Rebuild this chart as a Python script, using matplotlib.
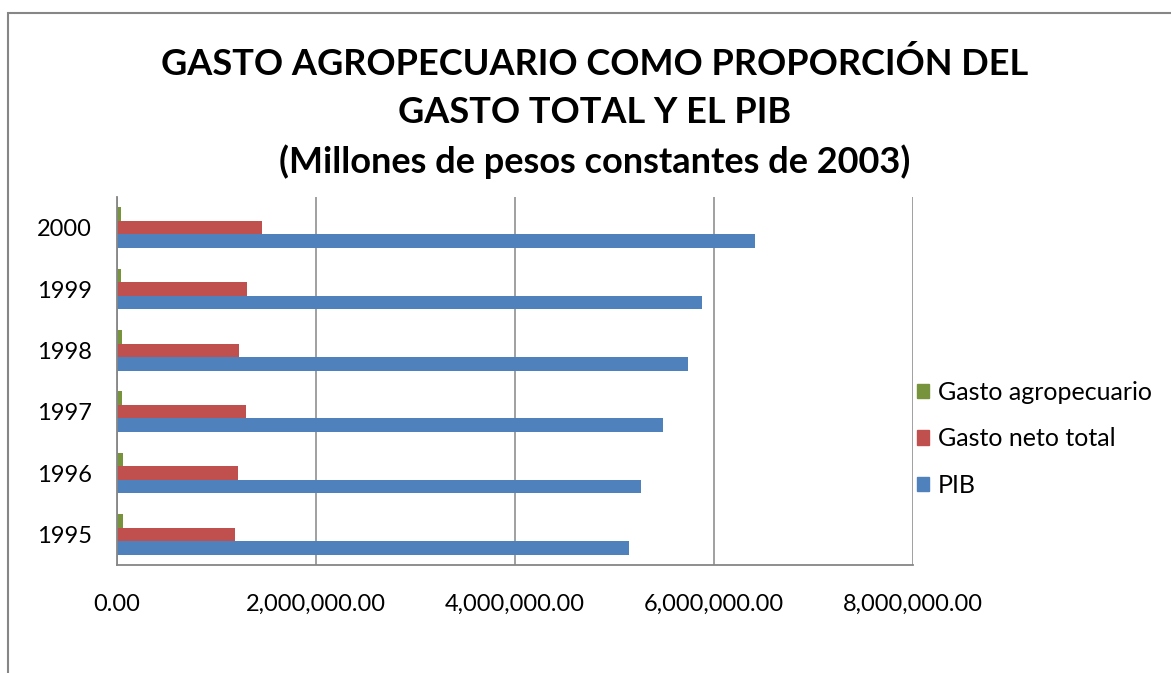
import matplotlib
matplotlib.use('Agg')
import matplotlib.pyplot as plt
from matplotlib.patches import Rectangle, Patch
from matplotlib.ticker import FuncFormatter
import numpy as np

plt.rcParams['font.family'] = ['Lato', 'DejaVu Sans']

years = ['1995', '1996', '1997', '1998', '1999', '2000']
pib = [5146000, 5266000, 5487000, 5739000, 5880000, 6412000]
gasto_neto = [1189000, 1216000, 1293000, 1226000, 1303000, 1454000]
gasto_agro = [60000, 57000, 53000, 47000, 37000, 37000]

fig = plt.figure(figsize=(11.71, 6.73), dpi=100)
fig.patches.append(Rectangle((8 / 1171, -0.1), 1.2, 1 - 13 / 673 + 0.1, transform=fig.transFigure,
                             fill=False, edgecolor='#868686', linewidth=1.5))

ax = fig.add_axes([117 / 1171, 1 - 565 / 673, 796 / 1171, 368 / 673])

y = np.arange(len(years))
h = 1 / 4.5
ax.barh(y - h, pib, height=h, color='#4F81BD', label='PIB')
ax.barh(y, gasto_neto, height=h, color='#C0504D', label='Gasto neto total')
ax.barh(y + h, gasto_agro, height=h, color='#77933C', label='Gasto agropecuario')

ax.set_xlim(0, 8000000)
ax.set_ylim(-0.5, 5.5)
ax.set_xticks([0, 2000000, 4000000, 6000000, 8000000])
ax.xaxis.set_major_formatter(FuncFormatter(lambda v, p: f'{v:,.2f}'))
ax.set_yticks(y)
ax.set_yticklabels(years)
ax.tick_params(axis='both', length=0, labelsize=17)
ax.tick_params(axis='x', pad=21)
ax.tick_params(axis='y', pad=18)
ax.grid(axis='x', color='#868686', linewidth=1.1)
ax.set_axisbelow(True)
for s in ['top', 'right']:
    ax.spines[s].set_visible(False)
for s in ['left', 'bottom']:
    ax.spines[s].set_color('#868686')
    ax.spines[s].set_linewidth(1.3)

handles = [Patch(color='#77933C'), Patch(color='#C0504D'), Patch(color='#4F81BD')]
labels = ['Gasto agropecuario', 'Gasto neto total', 'PIB']
fig.legend(handles, labels, loc='upper left', bbox_to_anchor=(894 / 1171, 1 - 358 / 673),
           frameon=False, fontsize=18, handlelength=0.5, handleheight=0.5,
           handletextpad=0.35, labelspacing=0.95)

fig.text(0.508, 1 - 47 / 673, 'GASTO AGROPECUARIO COMO PROPORCIÓN DEL\nGASTO TOTAL Y EL PIB\n(Millones de pesos constantes de 2003)',
         ha='center', va='top', fontsize=26, fontweight='bold', linespacing=1.55)

fig.savefig('out.png', dpi=100)
